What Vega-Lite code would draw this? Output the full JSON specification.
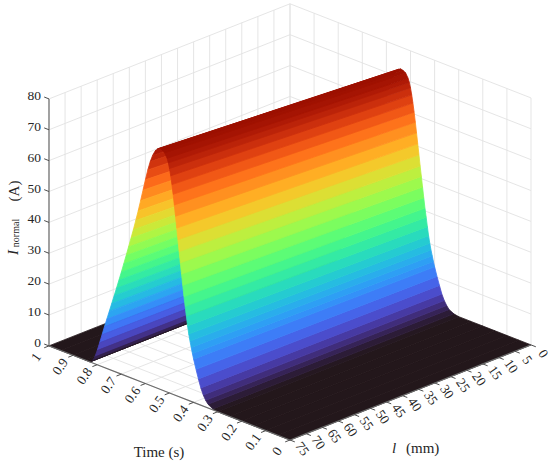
{
  "$schema": "https://vega.github.io/schema/vega-lite/v6.json",
  "width": 550,
  "height": 465,
  "padding": 0,
  "autosize": {"type": "none"},
  "background": "white",
  "config": {"view": {"stroke": null}, "text": {"font": "Liberation Serif", "color": "#262626"}},
  "datasets": {
    "surface": [
      {"time": 0, "l": 75, "current": 0}, {"time": 0, "l": 0, "current": 0},
      {"time": 0.05, "l": 75, "current": 0}, {"time": 0.05, "l": 0, "current": 0},
      {"time": 0.1, "l": 75, "current": 0}, {"time": 0.1, "l": 0, "current": 0},
      {"time": 0.15, "l": 75, "current": 0}, {"time": 0.15, "l": 0, "current": 0},
      {"time": 0.2, "l": 75, "current": 0}, {"time": 0.2, "l": 0, "current": 0},
      {"time": 0.25, "l": 75, "current": 0}, {"time": 0.25, "l": 0, "current": 0},
      {"time": 0.3, "l": 75, "current": 0}, {"time": 0.3, "l": 0, "current": 0},
      {"time": 0.32, "l": 75, "current": 0.3}, {"time": 0.32, "l": 0, "current": 0.3},
      {"time": 0.34, "l": 75, "current": 1.2}, {"time": 0.34, "l": 0, "current": 1.1},
      {"time": 0.35, "l": 75, "current": 2.2}, {"time": 0.35, "l": 0, "current": 2.1},
      {"time": 0.36, "l": 75, "current": 3.6}, {"time": 0.36, "l": 0, "current": 3.4},
      {"time": 0.37, "l": 75, "current": 5.6}, {"time": 0.37, "l": 0, "current": 5.2},
      {"time": 0.38, "l": 75, "current": 8.2}, {"time": 0.38, "l": 0, "current": 7.7},
      {"time": 0.39, "l": 75, "current": 11}, {"time": 0.39, "l": 0, "current": 10.3},
      {"time": 0.4, "l": 75, "current": 14}, {"time": 0.4, "l": 0, "current": 13.1},
      {"time": 0.405, "l": 75, "current": 15.7}, {"time": 0.405, "l": 0, "current": 14.7},
      {"time": 0.41, "l": 75, "current": 17.5}, {"time": 0.41, "l": 0, "current": 16.4},
      {"time": 0.415, "l": 75, "current": 19.4}, {"time": 0.415, "l": 0, "current": 18.1},
      {"time": 0.42, "l": 75, "current": 21.5}, {"time": 0.42, "l": 0, "current": 20.1},
      {"time": 0.425, "l": 75, "current": 24}, {"time": 0.425, "l": 0, "current": 22.4},
      {"time": 0.43, "l": 75, "current": 27}, {"time": 0.43, "l": 0, "current": 25.2},
      {"time": 0.435, "l": 75, "current": 30}, {"time": 0.435, "l": 0, "current": 28.1},
      {"time": 0.44, "l": 75, "current": 33}, {"time": 0.44, "l": 0, "current": 30.9},
      {"time": 0.445, "l": 75, "current": 36.5}, {"time": 0.445, "l": 0, "current": 34.1},
      {"time": 0.45, "l": 75, "current": 40}, {"time": 0.45, "l": 0, "current": 37.4},
      {"time": 0.455, "l": 75, "current": 43.5}, {"time": 0.455, "l": 0, "current": 40.7},
      {"time": 0.46, "l": 75, "current": 47}, {"time": 0.46, "l": 0, "current": 43.9},
      {"time": 0.465, "l": 75, "current": 50.7}, {"time": 0.465, "l": 0, "current": 47.4},
      {"time": 0.47, "l": 75, "current": 54.3}, {"time": 0.47, "l": 0, "current": 50.8},
      {"time": 0.475, "l": 75, "current": 58}, {"time": 0.475, "l": 0, "current": 54.2},
      {"time": 0.48, "l": 75, "current": 61.5}, {"time": 0.48, "l": 0, "current": 57.5},
      {"time": 0.485, "l": 75, "current": 64.8}, {"time": 0.485, "l": 0, "current": 60.6},
      {"time": 0.49, "l": 75, "current": 67.8}, {"time": 0.49, "l": 0, "current": 63.4},
      {"time": 0.495, "l": 75, "current": 70.5}, {"time": 0.495, "l": 0, "current": 65.9},
      {"time": 0.5, "l": 75, "current": 72.7}, {"time": 0.5, "l": 0, "current": 68},
      {"time": 0.505, "l": 75, "current": 74.4}, {"time": 0.505, "l": 0, "current": 69.6},
      {"time": 0.51, "l": 75, "current": 75.7}, {"time": 0.51, "l": 0, "current": 70.8},
      {"time": 0.52, "l": 75, "current": 77.2}, {"time": 0.52, "l": 0, "current": 72.2},
      {"time": 0.53, "l": 75, "current": 77.8}, {"time": 0.53, "l": 0, "current": 72.7},
      {"time": 0.54, "l": 75, "current": 78}, {"time": 0.54, "l": 0, "current": 72.9},
      {"time": 0.55, "l": 75, "current": 77.5}, {"time": 0.55, "l": 0, "current": 72.5},
      {"time": 0.56, "l": 75, "current": 76.5}, {"time": 0.56, "l": 0, "current": 71.5},
      {"time": 0.57, "l": 75, "current": 74.8}, {"time": 0.57, "l": 0, "current": 69.9},
      {"time": 0.58, "l": 75, "current": 72.5}, {"time": 0.58, "l": 0, "current": 67.8},
      {"time": 0.59, "l": 75, "current": 69.5}, {"time": 0.59, "l": 0, "current": 65},
      {"time": 0.6, "l": 75, "current": 66}, {"time": 0.6, "l": 0, "current": 61.7},
      {"time": 0.61, "l": 75, "current": 62.3}, {"time": 0.61, "l": 0, "current": 58.3},
      {"time": 0.62, "l": 75, "current": 58.6}, {"time": 0.62, "l": 0, "current": 54.8},
      {"time": 0.63, "l": 75, "current": 55}, {"time": 0.63, "l": 0, "current": 51.4},
      {"time": 0.64, "l": 75, "current": 51.6}, {"time": 0.64, "l": 0, "current": 48.2},
      {"time": 0.65, "l": 75, "current": 48.3}, {"time": 0.65, "l": 0, "current": 45.2},
      {"time": 0.66, "l": 75, "current": 45.2}, {"time": 0.66, "l": 0, "current": 42.3},
      {"time": 0.67, "l": 75, "current": 42.1}, {"time": 0.67, "l": 0, "current": 39.4},
      {"time": 0.68, "l": 75, "current": 39}, {"time": 0.68, "l": 0, "current": 36.5},
      {"time": 0.69, "l": 75, "current": 36}, {"time": 0.69, "l": 0, "current": 33.7},
      {"time": 0.7, "l": 75, "current": 33}, {"time": 0.7, "l": 0, "current": 30.9},
      {"time": 0.71, "l": 75, "current": 30.1}, {"time": 0.71, "l": 0, "current": 28.1},
      {"time": 0.72, "l": 75, "current": 27.2}, {"time": 0.72, "l": 0, "current": 25.4},
      {"time": 0.73, "l": 75, "current": 24.4}, {"time": 0.73, "l": 0, "current": 22.8},
      {"time": 0.74, "l": 75, "current": 21.6}, {"time": 0.74, "l": 0, "current": 20.2},
      {"time": 0.75, "l": 75, "current": 18.8}, {"time": 0.75, "l": 0, "current": 17.6},
      {"time": 0.76, "l": 75, "current": 16}, {"time": 0.76, "l": 0, "current": 15},
      {"time": 0.77, "l": 75, "current": 13.2}, {"time": 0.77, "l": 0, "current": 12.3},
      {"time": 0.78, "l": 75, "current": 10.3}, {"time": 0.78, "l": 0, "current": 9.6},
      {"time": 0.79, "l": 75, "current": 7.4}, {"time": 0.79, "l": 0, "current": 6.9},
      {"time": 0.8, "l": 75, "current": 4.6}, {"time": 0.8, "l": 0, "current": 4.3},
      {"time": 0.81, "l": 75, "current": 2.2}, {"time": 0.81, "l": 0, "current": 2.1},
      {"time": 0.82, "l": 75, "current": 0.6}, {"time": 0.82, "l": 0, "current": 0.6},
      {"time": 0.83, "l": 75, "current": 0}, {"time": 0.83, "l": 0, "current": 0},
      {"time": 0.85, "l": 75, "current": 0}, {"time": 0.85, "l": 0, "current": 0},
      {"time": 0.9, "l": 75, "current": 0}, {"time": 0.9, "l": 0, "current": 0},
      {"time": 0.95, "l": 75, "current": 0}, {"time": 0.95, "l": 0, "current": 0},
      {"time": 1, "l": 75, "current": 0}, {"time": 1, "l": 0, "current": 0}
    ],
    "ticks": [
      {"axis": "t", "val": 0}, {"axis": "t", "val": 0.1}, {"axis": "t", "val": 0.2}, {"axis": "t", "val": 0.3},
      {"axis": "t", "val": 0.4}, {"axis": "t", "val": 0.5}, {"axis": "t", "val": 0.6}, {"axis": "t", "val": 0.7},
      {"axis": "t", "val": 0.8}, {"axis": "t", "val": 0.9}, {"axis": "t", "val": 1},
      {"axis": "l", "val": 0}, {"axis": "l", "val": 5}, {"axis": "l", "val": 10}, {"axis": "l", "val": 15},
      {"axis": "l", "val": 20}, {"axis": "l", "val": 25}, {"axis": "l", "val": 30}, {"axis": "l", "val": 35},
      {"axis": "l", "val": 40}, {"axis": "l", "val": 45}, {"axis": "l", "val": 50}, {"axis": "l", "val": 55},
      {"axis": "l", "val": 60}, {"axis": "l", "val": 65}, {"axis": "l", "val": 70}, {"axis": "l", "val": 75},
      {"axis": "z", "val": 0}, {"axis": "z", "val": 10}, {"axis": "z", "val": 20}, {"axis": "z", "val": 30},
      {"axis": "z", "val": 40}, {"axis": "z", "val": 50}, {"axis": "z", "val": 60}, {"axis": "z", "val": 70},
      {"axis": "z", "val": 80}
    ],
    "titles": [
      {"part": "Time (s)", "u": -0.5436, "v": -0.0688},
      {"part": "l", "u": 0.4232, "v": -0.0526},
      {"part": "(mm)", "u": 0.4813, "v": -0.0526},
      {"part": "I", "u": -1.1494, "v": 0.7591},
      {"part": "normal", "u": -1.1369, "v": 0.8381},
      {"part": "(A)", "u": -1.1452, "v": 1.0081}
    ]
  },
  "encoding": {
    "x": {"field": "px", "type": "quantitative", "scale": {"domain": [-1.2033, 1.0788], "nice": false, "zero": false}, "axis": null},
    "y": {"field": "py", "type": "quantitative", "scale": {"domain": [-0.1012, 1.7814], "nice": false, "zero": false}, "axis": null}
  },
  "layer": [
    {
      "data": {"name": "ticks"},
      "transform": [
        {"calculate": "(75 - datum.val) / 75", "as": "a"},
        {"calculate": "datum.axis === 't' ? 1 - datum.val : datum.axis === 'l' ? datum.a : 0", "as": "px"},
        {"calculate": "datum.axis === 't' ? 0.381 * datum.val + 0.385 : datum.axis === 'l' ? 0.385 * datum.a : datum.val / 80 + 0.766", "as": "py"},
        {"calculate": "datum.axis === 't' ? -datum.val : datum.axis === 'l' ? datum.a - 1 : -1", "as": "px2"},
        {"calculate": "datum.axis === 't' ? 0.381 * datum.val : datum.axis === 'l' ? 0.381 + 0.385 * datum.a : datum.val / 80 + 0.381", "as": "py2"}
      ],
      "mark": {"type": "rule", "color": "#e2e2e2", "strokeWidth": 0.9},
      "encoding": {"x2": {"field": "px2"}, "y2": {"field": "py2"}}
    },
    {
      "data": {"name": "ticks"},
      "transform": [
        {"calculate": "(75 - datum.val) / 75", "as": "a"},
        {"calculate": "datum.axis === 't' ? 1 - datum.val : datum.axis === 'l' ? datum.a - 1 : 1", "as": "px"},
        {"calculate": "datum.axis === 't' ? 0.381 * datum.val + 0.385 : datum.axis === 'l' ? 0.381 + 0.385 * datum.a : datum.val / 80 + 0.385", "as": "py"},
        {"calculate": "datum.axis === 't' ? 1 - datum.val : datum.axis === 'l' ? datum.a - 1 : 0", "as": "px2"},
        {"calculate": "datum.axis === 't' ? 0.381 * datum.val + 1.385 : datum.axis === 'l' ? 1.381 + 0.385 * datum.a : datum.val / 80 + 0.766", "as": "py2"}
      ],
      "mark": {"type": "rule", "color": "#e2e2e2", "strokeWidth": 0.9},
      "encoding": {"x2": {"field": "px2"}, "y2": {"field": "py2"}}
    },
    {
      "data": {"name": "surface"},
      "transform": [
        {"window": [{"op": "lead", "field": "time", "as": "t2"}, {"op": "lead", "field": "current", "as": "i2"}], "sort": [{"field": "time", "order": "ascending"}], "groupby": ["l"]},
        {"filter": "datum.t2 != null"},
        {"filter": "datum.time >= 0.83"},
        {"fold": ["time", "t2"], "as": ["end", "vt"]},
        {"calculate": "datum.end === 'time' ? datum.current : datum.i2", "as": "vz"},
        {"calculate": "datum.l === 75 ? (datum.end === 'time' ? 0 : 3) : (datum.end === 'time' ? 1 : 2)", "as": "vo"},
        {"joinaggregate": [{"op": "mean", "field": "vz", "as": "bz"}], "groupby": ["time"]},
        {"calculate": "(75 - datum.l) / 75 - datum.vt", "as": "px"},
        {"calculate": "datum.vz / 80 + 0.381 * datum.vt + 0.385 * (75 - datum.l) / 75", "as": "py"}
      ],
      "mark": {"type": "line", "filled": true, "interpolate": "linear-closed", "strokeWidth": 0.8, "opacity": 1},
      "encoding": {
        "detail": {"field": "time", "type": "nominal"},
        "order": {"field": "vo", "type": "quantitative"},
        "color": {"field": "bz", "type": "quantitative", "scale": {"scheme": "turbo", "domain": [0, 78]}, "legend": null},
        "stroke": {"field": "bz", "type": "quantitative", "scale": {"scheme": "turbo", "domain": [0, 78]}, "legend": null}
      }
    },
    {
      "data": {"name": "surface"},
      "transform": [
        {"window": [{"op": "lead", "field": "time", "as": "t2"}, {"op": "lead", "field": "current", "as": "i2"}], "sort": [{"field": "time", "order": "ascending"}], "groupby": ["l"]},
        {"filter": "datum.t2 != null"},
        {"filter": "datum.time >= 0.54 && datum.time < 0.83"},
        {"fold": ["time", "t2"], "as": ["end", "vt"]},
        {"calculate": "datum.end === 'time' ? datum.current : datum.i2", "as": "vz"},
        {"calculate": "datum.l === 75 ? (datum.end === 'time' ? 0 : 3) : (datum.end === 'time' ? 1 : 2)", "as": "vo"},
        {"joinaggregate": [{"op": "mean", "field": "vz", "as": "bz"}], "groupby": ["time"]},
        {"calculate": "(75 - datum.l) / 75 - datum.vt", "as": "px"},
        {"calculate": "datum.vz / 80 + 0.381 * datum.vt + 0.385 * (75 - datum.l) / 75", "as": "py"}
      ],
      "mark": {"type": "line", "filled": true, "interpolate": "linear-closed", "strokeWidth": 0.8, "opacity": 1},
      "encoding": {
        "detail": {"field": "time", "type": "nominal"},
        "order": {"field": "vo", "type": "quantitative"},
        "color": {"field": "bz", "type": "quantitative", "scale": {"scheme": "turbo", "domain": [0, 78]}, "legend": null},
        "stroke": {"field": "bz", "type": "quantitative", "scale": {"scheme": "turbo", "domain": [0, 78]}, "legend": null}
      }
    },
    {
      "data": {"name": "surface"},
      "transform": [
        {"window": [{"op": "lead", "field": "time", "as": "t2"}, {"op": "lead", "field": "current", "as": "i2"}], "sort": [{"field": "time", "order": "ascending"}], "groupby": ["l"]},
        {"filter": "datum.t2 != null"},
        {"filter": "datum.time < 0.54"},
        {"fold": ["time", "t2"], "as": ["end", "vt"]},
        {"calculate": "datum.end === 'time' ? datum.current : datum.i2", "as": "vz"},
        {"calculate": "datum.l === 75 ? (datum.end === 'time' ? 0 : 3) : (datum.end === 'time' ? 1 : 2)", "as": "vo"},
        {"joinaggregate": [{"op": "mean", "field": "vz", "as": "bz"}], "groupby": ["time"]},
        {"calculate": "(75 - datum.l) / 75 - datum.vt", "as": "px"},
        {"calculate": "datum.vz / 80 + 0.381 * datum.vt + 0.385 * (75 - datum.l) / 75", "as": "py"}
      ],
      "mark": {"type": "line", "filled": true, "interpolate": "linear-closed", "strokeWidth": 0.8, "opacity": 1},
      "encoding": {
        "detail": {"field": "time", "type": "nominal"},
        "order": {"field": "vo", "type": "quantitative"},
        "color": {"field": "bz", "type": "quantitative", "scale": {"scheme": "turbo", "domain": [0, 78]}, "legend": null},
        "stroke": {"field": "bz", "type": "quantitative", "scale": {"scheme": "turbo", "domain": [0, 78]}, "legend": null}
      }
    },
    {
      "data": {"name": "ticks"},
      "transform": [
        {"calculate": "(75 - datum.val) / 75", "as": "a"},
        {"calculate": "datum.axis === 't' ? -datum.val : datum.axis === 'l' ? datum.a : -1", "as": "px"},
        {"calculate": "datum.axis === 't' ? 0.381 * datum.val : datum.axis === 'l' ? 0.385 * datum.a : datum.val / 80 + 0.381", "as": "py"}
      ],
      "mark": {"type": "line", "color": "#6b6b6b", "strokeWidth": 1.2},
      "encoding": {
        "detail": {"field": "axis", "type": "nominal"},
        "order": {"field": "val", "type": "quantitative"}
      }
    },
    {
      "data": {"name": "ticks"},
      "transform": [
        {"calculate": "(75 - datum.val) / 75", "as": "a"},
        {"calculate": "datum.axis === 't' ? -datum.val : datum.axis === 'l' ? datum.a : -1", "as": "px"},
        {"calculate": "datum.axis === 't' ? 0.381 * datum.val : datum.axis === 'l' ? 0.385 * datum.a : datum.val / 80 + 0.381", "as": "py"},
        {"calculate": "datum.axis === 't' ? -datum.val - 0.02 : datum.axis === 'l' ? datum.a + 0.02 : -1.02", "as": "px2"},
        {"calculate": "datum.axis === 't' ? 0.381 * datum.val - 0.0077 : datum.axis === 'l' ? 0.385 * datum.a - 0.0076 : datum.val / 80 + 0.3886", "as": "py2"}
      ],
      "mark": {"type": "rule", "color": "#4d4d4d", "strokeWidth": 1},
      "encoding": {"x2": {"field": "px2"}, "y2": {"field": "py2"}}
    },
    {
      "data": {"name": "ticks"},
      "transform": [
        {"filter": "datum.axis === 't'"},
        {"calculate": "-datum.val - 0.0519", "as": "px"},
        {"calculate": "0.381 * datum.val - 0.0466", "as": "py"}
      ],
      "mark": {"type": "text", "font": "Liberation Serif", "fontSize": 13.5, "color": "#262626", "angle": 305, "align": "center", "baseline": "middle"},
      "encoding": {"text": {"field": "val", "type": "quantitative", "format": "~g"}}
    },
    {
      "data": {"name": "ticks"},
      "transform": [
        {"filter": "datum.axis === 'l'"},
        {"calculate": "(75 - datum.val) / 75 + 0.0498", "as": "px"},
        {"calculate": "0.385 * (75 - datum.val) / 75 - 0.0364", "as": "py"}
      ],
      "mark": {"type": "text", "font": "Liberation Serif", "fontSize": 13.5, "color": "#262626", "angle": 55, "align": "center", "baseline": "middle"},
      "encoding": {"text": {"field": "val", "type": "quantitative", "format": "~g"}}
    },
    {
      "data": {"name": "ticks"},
      "transform": [
        {"filter": "datum.axis === 'z'"},
        {"calculate": "-1.0332", "as": "px"},
        {"calculate": "datum.val / 80 + 0.381 + 0.0121", "as": "py"}
      ],
      "mark": {"type": "text", "font": "Liberation Serif", "fontSize": 13.5, "color": "#262626", "align": "right", "baseline": "middle"},
      "encoding": {"text": {"field": "val", "type": "quantitative", "format": "~g"}}
    },
    {
      "data": {"name": "titles"},
      "transform": [
        {"filter": "datum.part === 'Time (s)'"},
        {"calculate": "datum.u", "as": "px"},
        {"calculate": "datum.v", "as": "py"}
      ],
      "mark": {"type": "text", "font": "Liberation Serif", "fontSize": 15, "color": "#262626", "align": "center", "baseline": "alphabetic"},
      "encoding": {"text": {"field": "part", "type": "nominal"}}
    },
    {
      "data": {"name": "titles"},
      "transform": [
        {"filter": "datum.part === 'l'"},
        {"calculate": "datum.u", "as": "px"},
        {"calculate": "datum.v", "as": "py"}
      ],
      "mark": {"type": "text", "font": "Liberation Serif", "fontSize": 15, "fontStyle": "italic", "color": "#262626", "align": "left", "baseline": "alphabetic"},
      "encoding": {"text": {"field": "part", "type": "nominal"}}
    },
    {
      "data": {"name": "titles"},
      "transform": [
        {"filter": "datum.part === '(mm)'"},
        {"calculate": "datum.u", "as": "px"},
        {"calculate": "datum.v", "as": "py"}
      ],
      "mark": {"type": "text", "font": "Liberation Serif", "fontSize": 15, "color": "#262626", "align": "left", "baseline": "alphabetic"},
      "encoding": {"text": {"field": "part", "type": "nominal"}}
    },
    {
      "data": {"name": "titles"},
      "transform": [
        {"filter": "datum.part === 'I'"},
        {"calculate": "datum.u", "as": "px"},
        {"calculate": "datum.v", "as": "py"}
      ],
      "mark": {"type": "text", "font": "Liberation Serif", "fontSize": 15, "fontStyle": "italic", "color": "#262626", "angle": 270, "align": "center", "baseline": "middle"},
      "encoding": {"text": {"field": "part", "type": "nominal"}}
    },
    {
      "data": {"name": "titles"},
      "transform": [
        {"filter": "datum.part === 'normal'"},
        {"calculate": "datum.u", "as": "px"},
        {"calculate": "datum.v", "as": "py"}
      ],
      "mark": {"type": "text", "font": "Liberation Serif", "fontSize": 10, "color": "#262626", "angle": 270, "align": "center", "baseline": "middle"},
      "encoding": {"text": {"field": "part", "type": "nominal"}}
    },
    {
      "data": {"name": "titles"},
      "transform": [
        {"filter": "datum.part === '(A)'"},
        {"calculate": "datum.u", "as": "px"},
        {"calculate": "datum.v", "as": "py"}
      ],
      "mark": {"type": "text", "font": "Liberation Serif", "fontSize": 15, "color": "#262626", "angle": 270, "align": "center", "baseline": "middle"},
      "encoding": {"text": {"field": "part", "type": "nominal"}}
    }
  ]
}
